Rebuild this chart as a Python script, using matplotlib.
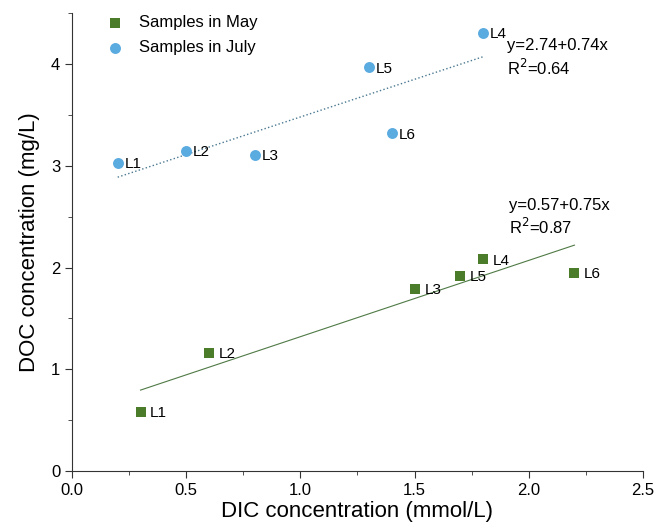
import matplotlib
matplotlib.use("Agg")
import matplotlib.pyplot as plt
from matplotlib.ticker import MultipleLocator

plt.rcParams["font.family"] = ["Liberation Sans", "DejaVu Sans"]

labels = ["L1", "L2", "L3", "L4", "L5", "L6"]
may_x = [0.3, 0.6, 1.5, 1.8, 1.7, 2.2]
may_y = [0.58, 1.16, 1.79, 2.08, 1.92, 1.95]
july_x = [0.2, 0.5, 0.8, 1.8, 1.3, 1.4]
july_y = [3.03, 3.15, 3.11, 4.31, 3.97, 3.32]
may_fit = (0.57, 0.75)   # intercept, slope
july_fit = (2.74, 0.74)

GREEN = "#4b7c2a"
BLUE = "#5aabe0"

fig = plt.figure(figsize=(6.57, 5.28), dpi=100)
ax = fig.add_axes([0.1096, 0.108, 0.869, 0.867])

ax.scatter(may_x, may_y, marker="s", s=50, color=GREEN, label="Samples in May", zorder=3, linewidths=0)
ax.scatter(july_x, july_y, marker="o", s=62, color=BLUE, label="Samples in July", zorder=3, linewidths=0)

for lab, x, y in zip(labels, may_x, may_y):
    ax.annotate(lab, (x, y), xytext=(7, -1), textcoords="offset points", va="center", fontsize=11)
for lab, x, y in zip(labels, july_x, july_y):
    ax.annotate(lab, (x, y), xytext=(5, -1), textcoords="offset points", va="center", fontsize=11)

xs = [min(may_x), max(may_x)]
ax.plot(xs, [may_fit[0] + may_fit[1] * x for x in xs], "-", color="#4f7a45", lw=0.8)
xs = [min(july_x), max(july_x)]
ax.plot(xs, [july_fit[0] + july_fit[1] * x for x in xs], ":", color="#4a7890", lw=1.0)

ax.text(1.905, 4.06, "y=2.74+0.74x\nR$^2$=0.64", fontsize=12, va="center", linespacing=1.25)
ax.text(1.912, 2.49, "y=0.57+0.75x\nR$^2$=0.87", fontsize=12, va="center", linespacing=1.25)

ax.set_xlim(0, 2.5)
ax.set_ylim(0, 4.5)
ax.xaxis.set_major_locator(MultipleLocator(0.5))
ax.xaxis.set_minor_locator(MultipleLocator(0.25))
ax.yaxis.set_major_locator(MultipleLocator(1))
ax.yaxis.set_minor_locator(MultipleLocator(0.5))
ax.xaxis.set_major_formatter(matplotlib.ticker.FormatStrFormatter("%.1f"))
ax.spines["top"].set_visible(False)
ax.spines["right"].set_visible(False)
for s in ("left", "bottom"):
    ax.spines[s].set_color("#333333")
ax.tick_params(which="both", direction="out", colors="#333333", labelcolor="black", labelsize=12)
ax.tick_params(which="major", length=5)
ax.tick_params(which="minor", length=3)

ax.set_xlabel("DIC concentration (mmol/L)", fontsize=16, labelpad=2)
ax.set_ylabel("DOC concentration (mg/L)", fontsize=16, labelpad=8)

ax.legend(loc="upper left", bbox_to_anchor=(0.035, 1.01), frameon=False, fontsize=12,
          handletextpad=0.4, labelspacing=0.6, borderaxespad=0)

fig.savefig("out.png", dpi=100)
